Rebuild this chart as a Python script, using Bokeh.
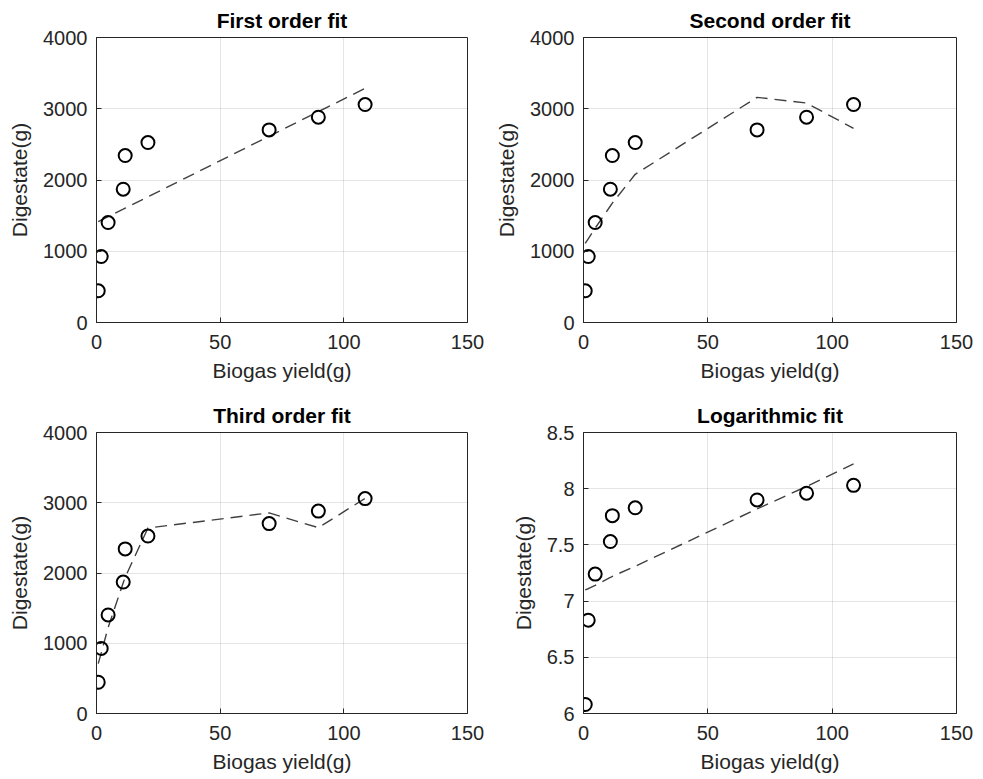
from bokeh.plotting import figure
from bokeh.layouts import column, row
from bokeh.models import Range1d, FixedTicker, CustomJSTickFormatter
from bokeh.embed import file_html
from bokeh.resources import INLINE

# ---- data ----
biogas = [0.7, 1.9, 4.7, 10.8, 11.6, 20.8, 69.8, 89.7, 108.6]
digestate = [445, 926, 1403, 1871, 2343, 2526, 2703, 2881, 3059]
log_digestate = [6.08, 6.83, 7.24, 7.53, 7.76, 7.83, 7.90, 7.96, 8.03]

fit_first = [1416, 1437, 1485, 1591, 1605, 1764, 2614, 2959, 3286]
fit_second = [1110, 1175, 1325, 1635, 1675, 2080, 3160, 3080, 2725]
fit_third = [710, 860, 1225, 1860, 1940, 2640, 2855, 2645, 3062]
fit_log = [7.10, 7.11, 7.14, 7.21, 7.22, 7.31, 7.82, 8.02, 8.22]

titles = ["First order fit", "Second order fit", "Third order fit", "Logarithmic fit"]
x_ticks = [0, 50, 100, 150]
y_ticks_lin = [0, 1000, 2000, 3000, 4000]
y_ticks_log = [6, 6.5, 7, 7.5, 8, 8.5]

FONT = "Liberation Sans"
INK = "#262626"


def make_panel(title, ys, fit, yr, yticks, w, h, bl, br, bt, bb, logfmt=False):
    p = figure(width=w, height=h, output_backend="svg", toolbar_location=None,
               x_range=Range1d(0, 150), y_range=Range1d(*yr),
               min_border_left=bl, min_border_right=br,
               min_border_top=bt, min_border_bottom=bb,
               background_fill_color="white", border_fill_color="white")
    p.title.text = title
    p.title.align = "center"
    p.title.text_font = FONT
    p.title.text_font_size = "21px"
    p.title.text_font_style = "bold"
    p.title.text_color = "black"
    p.title.standoff = 11
    p.outline_line_color = INK
    p.outline_line_width = 1
    p.outline_line_alpha = 1

    p.xaxis.ticker = FixedTicker(ticks=x_ticks)
    p.yaxis.ticker = FixedTicker(ticks=yticks)
    if logfmt:
        p.yaxis.formatter = CustomJSTickFormatter(code="return String(Math.round(tick*10)/10);")
    for ax in (p.xaxis[0], p.yaxis[0]):
        ax.major_tick_in = 5
        ax.major_tick_out = 0
        ax.minor_tick_line_color = None
        ax.axis_line_color = INK
        ax.major_tick_line_color = INK
        ax.major_label_text_font = FONT
        ax.major_label_text_font_size = "20px"
        ax.major_label_text_color = INK
        ax.axis_label_text_font = FONT
        ax.axis_label_text_font_size = "21px"
        ax.axis_label_text_font_style = "normal"
        ax.axis_label_text_color = INK
    p.xaxis.axis_label = "Biogas yield(g)"
    p.yaxis.axis_label = "Digestate(g)"
    p.xaxis.major_label_standoff = 12
    p.xaxis.axis_label_standoff = 7
    p.yaxis.major_label_standoff = 9
    p.yaxis.axis_label_standoff = 9

    p.grid.grid_line_color = INK
    p.grid.grid_line_alpha = 0.12
    p.grid.grid_line_width = 1

    p.line(biogas, fit, line_color="#404040", line_width=1.4, line_dash="12 7")
    p.scatter(biogas, ys, marker="circle", size=13, fill_color=None,
              line_color="black", line_width=2)
    return p


p1 = make_panel(titles[0], digestate, fit_first, (0, 4000), y_ticks_lin, 490, 389, 96, 23, 37, 67)
p2 = make_panel(titles[1], digestate, fit_second, (0, 4000), y_ticks_lin, 493, 389, 93, 27, 36, 67)
p3 = make_panel(titles[2], digestate, fit_third, (0, 4000), y_ticks_lin, 490, 390, 96, 23, 43, 65)
p4 = make_panel(titles[3], log_digestate, fit_log, (6, 8.5), y_ticks_log, 493, 390, 93, 27, 43, 66, logfmt=True)

layout = column(row(p1, p2), row(p3, p4))

open("out.html", "w").write(file_html(layout, INLINE))
